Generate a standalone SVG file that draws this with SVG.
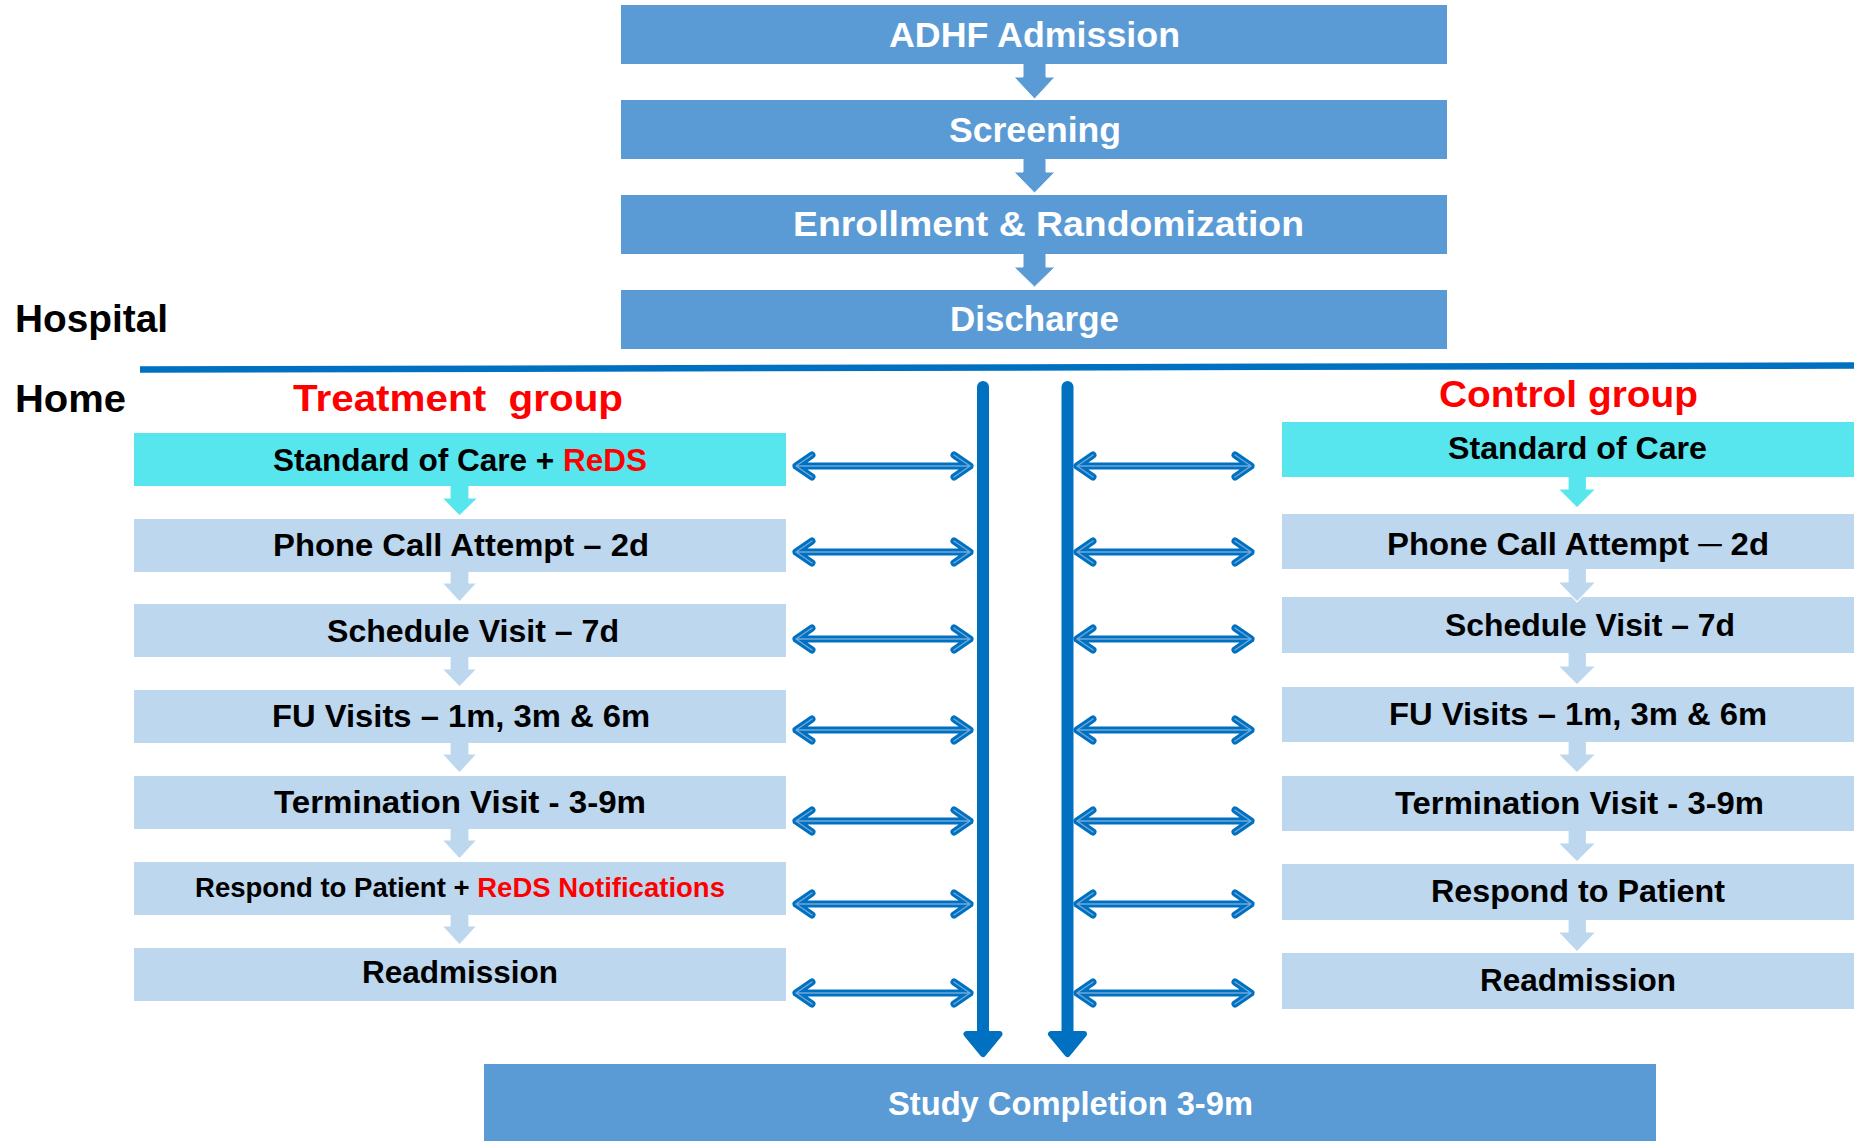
<svg xmlns="http://www.w3.org/2000/svg" width="1854" height="1141" viewBox="0 0 1854 1141">
  <style>
    text { font-family: "Liberation Sans", Arial, sans-serif; font-weight: bold; }
    .top-box { fill: #5B9BD5; }
    .top-txt { fill: #FFFFFF; font-size: 35px; }
    .lbl { fill: #000000; font-size: 38px; }
    .grp { fill: #FF0000; font-size: 37px; }
    .soc { fill: #57E6EE; }
    .step { fill: #BDD7EE; }
    .txt { fill: #000000; font-size: 32px; }
    .txt-sm { fill: #000000; font-size: 27px; }
    .red { fill: #FF0000; }
    .down-top { fill: #5B9BD5; stroke: #FFFFFF; stroke-width: 1; }
    .down-cyan { fill: #57E6EE; stroke: #FFFFFF; stroke-width: 1.2; }
    .down-light { fill: #BDD7EE; stroke: #FFFFFF; stroke-width: 1.2; }
    .dbl { fill: none; stroke: #0070C0; stroke-width: 7; stroke-linecap: round; stroke-linejoin: round; }
    .dbl-in { fill: none; stroke: #6FA8DC; stroke-width: 1.4; stroke-linecap: round; stroke-linejoin: round; }
    .trunk { fill: none; stroke: #0070C0; stroke-width: 12; stroke-linecap: round; }
    .trunk-head { fill: #0070C0; stroke: #0070C0; stroke-width: 6; stroke-linejoin: round; }
  </style>
  <defs>
    <!-- two-way arrow: shaft plus a chevron at each end, drawn as a doubled stroke -->
    <path id="twoway-l" d="M812 -11 L796 0 L812 11 M796 0 L970 0 M954 -11 L970 0 L954 11"/>
    <path id="twoway-r" d="M1093 -11 L1077 0 L1093 11 M1077 0 L1251 0 M1235 -11 L1251 0 L1235 11"/>
  </defs>

  <rect width="1854" height="1141" fill="#FFFFFF"/>

  <!-- hospital phase -->
  <g id="adhf-admission">
    <rect class="top-box" x="621" y="5" width="826" height="59"/>
    <text class="top-txt" x="889" y="47" textLength="291" lengthAdjust="spacingAndGlyphs">ADHF Admission</text>
  </g>
  <g id="screening">
    <rect class="top-box" x="621" y="100" width="826" height="59"/>
    <text class="top-txt" x="949" y="142" textLength="172" lengthAdjust="spacingAndGlyphs">Screening</text>
  </g>
  <g id="enrollment">
    <rect class="top-box" x="621" y="195" width="826" height="59"/>
    <text class="top-txt" x="793" y="236" textLength="511" lengthAdjust="spacingAndGlyphs">Enrollment &amp; Randomization</text>
  </g>
  <g id="discharge">
    <rect class="top-box" x="621" y="290" width="826" height="59"/>
    <text class="top-txt" x="950" y="331" textLength="169" lengthAdjust="spacingAndGlyphs">Discharge</text>
  </g>

  <!-- phase labels and divider -->
  <g id="phase-labels">
    <text class="lbl" x="15" y="332" textLength="153" lengthAdjust="spacingAndGlyphs">Hospital</text>
    <text class="lbl" x="15" y="412" textLength="111" lengthAdjust="spacingAndGlyphs">Home</text>
    <line x1="140" y1="369.5" x2="1854" y2="365.5" stroke="#0070C0" stroke-width="6.5"/>
  </g>

  <!-- treatment arm -->
  <g id="treatment-title">
    <text class="grp" x="293" y="411" textLength="330" lengthAdjust="spacingAndGlyphs" xml:space="preserve">Treatment  group</text>
  </g>
  <g id="t-soc">
    <rect class="soc" x="134" y="433" width="652" height="53"/>
    <text class="txt" x="273" y="471" textLength="374" lengthAdjust="spacingAndGlyphs">Standard of Care + <tspan class="red">ReDS</tspan></text>
  </g>
  <g id="t-phone">
    <rect class="step" x="134" y="519" width="652" height="53"/>
    <text class="txt" x="273" y="556" textLength="376" lengthAdjust="spacingAndGlyphs">Phone Call Attempt – 2d</text>
  </g>
  <g id="t-schedule">
    <rect class="step" x="134" y="604" width="652" height="53"/>
    <text class="txt" x="327" y="642" textLength="292" lengthAdjust="spacingAndGlyphs">Schedule Visit – 7d</text>
  </g>
  <g id="t-fu">
    <rect class="step" x="134" y="690" width="652" height="53"/>
    <text class="txt" x="272" y="727" textLength="378" lengthAdjust="spacingAndGlyphs">FU Visits – 1m, 3m &amp; 6m</text>
  </g>
  <g id="t-termination">
    <rect class="step" x="134" y="776" width="652" height="53"/>
    <text class="txt" x="274" y="813" textLength="372" lengthAdjust="spacingAndGlyphs">Termination Visit - 3-9m</text>
  </g>
  <g id="t-respond">
    <rect class="step" x="134" y="862" width="652" height="53"/>
    <text class="txt-sm" x="195" y="897" textLength="530" lengthAdjust="spacingAndGlyphs">Respond to Patient + <tspan class="red">ReDS Notifications</tspan></text>
  </g>
  <g id="t-readmission">
    <rect class="step" x="134" y="948" width="652" height="53"/>
    <text class="txt" x="362" y="983" textLength="196" lengthAdjust="spacingAndGlyphs">Readmission</text>
  </g>

  <!-- control arm -->
  <g id="control-title">
    <text class="grp" x="1439" y="407" textLength="259" lengthAdjust="spacingAndGlyphs">Control group</text>
  </g>
  <g id="c-soc">
    <rect class="soc" x="1282" y="422" width="572" height="55"/>
    <text class="txt" x="1448" y="459" textLength="259" lengthAdjust="spacingAndGlyphs">Standard of Care</text>
  </g>
  <g id="c-phone">
    <rect class="step" x="1282" y="514" width="572" height="55"/>
    <text class="txt" x="1387" y="555" textLength="382" lengthAdjust="spacingAndGlyphs">Phone Call Attempt ─ 2d</text>
  </g>
  <g id="c-schedule">
    <rect class="step" x="1282" y="597" width="572" height="56"/>
    <text class="txt" x="1445" y="636" textLength="290" lengthAdjust="spacingAndGlyphs">Schedule Visit – 7d</text>
  </g>
  <g id="c-fu">
    <rect class="step" x="1282" y="687" width="572" height="55"/>
    <text class="txt" x="1389" y="725" textLength="378" lengthAdjust="spacingAndGlyphs">FU Visits – 1m, 3m &amp; 6m</text>
  </g>
  <g id="c-termination">
    <rect class="step" x="1282" y="776" width="572" height="55"/>
    <text class="txt" x="1395" y="814" textLength="369" lengthAdjust="spacingAndGlyphs">Termination Visit - 3-9m</text>
  </g>
  <g id="c-respond">
    <rect class="step" x="1282" y="864" width="572" height="56"/>
    <text class="txt" x="1431" y="902" textLength="294" lengthAdjust="spacingAndGlyphs">Respond to Patient</text>
  </g>
  <g id="c-readmission">
    <rect class="step" x="1282" y="953" width="572" height="56"/>
    <text class="txt" x="1480" y="991" textLength="196" lengthAdjust="spacingAndGlyphs">Readmission</text>
  </g>

  <!-- end of study -->
  <g id="study-completion">
    <rect class="top-box" x="484" y="1064" width="1172" height="90"/>
    <text class="top-txt" x="888" y="1115" font-size="33" style="font-size:33px" textLength="365" lengthAdjust="spacingAndGlyphs">Study Completion 3-9m</text>
  </g>

  <!-- connectors -->
  <g id="connectors">
    <!-- hospital flow -->
    <path class="down-top" d="M1046 64 V77 H1055 L1034.5 99 L1014 77 H1023 V64"/>
    <path class="down-top" d="M1046 159 V172 H1055 L1034.5 193 L1014 172 H1023 V159"/>
    <path class="down-top" d="M1046 254 V267 H1055 L1034.5 287 L1014 267 H1023 V254"/>

    <!-- treatment flow -->
    <path class="down-cyan" d="M469 486 V498 H478 L459.5 516 L442 498 H450 V486"/>
    <path class="down-light" d="M469 572 V583 H477 L459.5 602 L442 583 H450 V572"/>
    <path class="down-light" d="M469 657 V669 H477 L459.5 687 L442 669 H450 V657"/>
    <path class="down-light" d="M469 743 V754 H477 L459.5 773 L442 754 H450 V743"/>
    <path class="down-light" d="M469 829 V840 H477 L459.5 859 L442 840 H450 V829"/>
    <path class="down-light" d="M469 915 V926 H477 L459.5 945 L442 926 H450 V915"/>

    <!-- control flow -->
    <path class="down-cyan" d="M1586.5 477 V489 H1596 L1577 508 L1558 489 H1568 V477"/>
    <path class="down-light" d="M1586.5 569 V582 H1596 L1577 602 L1558 582 H1568 V569"/>
    <path class="down-light" d="M1586.5 653 V666 H1596 L1577 685 L1558 666 H1568 V653"/>
    <path class="down-light" d="M1586.5 742 V754 H1596 L1577 773 L1558 754 H1568 V742"/>
    <path class="down-light" d="M1586.5 831 V843 H1596 L1577 862 L1558 843 H1568 V831"/>
    <path class="down-light" d="M1586.5 920 V932 H1596 L1577 952 L1558 932 H1568 V920"/>

    <!-- timeline trunks -->
    <path class="trunk" d="M983 387 V1036"/>
    <path class="trunk-head" d="M966.5 1034 L999.5 1034 L983 1054 Z"/>
    <path class="trunk" d="M1067.5 387 V1036"/>
    <path class="trunk-head" d="M1051 1034 L1084 1034 L1067.5 1054 Z"/>

    <!-- two-way links, treatment side -->
    <g transform="translate(0 466)"><use href="#twoway-l" class="dbl"/><use href="#twoway-l" class="dbl-in"/></g>
    <g transform="translate(0 552)"><use href="#twoway-l" class="dbl"/><use href="#twoway-l" class="dbl-in"/></g>
    <g transform="translate(0 639)"><use href="#twoway-l" class="dbl"/><use href="#twoway-l" class="dbl-in"/></g>
    <g transform="translate(0 730)"><use href="#twoway-l" class="dbl"/><use href="#twoway-l" class="dbl-in"/></g>
    <g transform="translate(0 821)"><use href="#twoway-l" class="dbl"/><use href="#twoway-l" class="dbl-in"/></g>
    <g transform="translate(0 904)"><use href="#twoway-l" class="dbl"/><use href="#twoway-l" class="dbl-in"/></g>
    <g transform="translate(0 993)"><use href="#twoway-l" class="dbl"/><use href="#twoway-l" class="dbl-in"/></g>

    <!-- two-way links, control side -->
    <g transform="translate(0 466)"><use href="#twoway-r" class="dbl"/><use href="#twoway-r" class="dbl-in"/></g>
    <g transform="translate(0 552)"><use href="#twoway-r" class="dbl"/><use href="#twoway-r" class="dbl-in"/></g>
    <g transform="translate(0 639)"><use href="#twoway-r" class="dbl"/><use href="#twoway-r" class="dbl-in"/></g>
    <g transform="translate(0 730)"><use href="#twoway-r" class="dbl"/><use href="#twoway-r" class="dbl-in"/></g>
    <g transform="translate(0 821)"><use href="#twoway-r" class="dbl"/><use href="#twoway-r" class="dbl-in"/></g>
    <g transform="translate(0 904)"><use href="#twoway-r" class="dbl"/><use href="#twoway-r" class="dbl-in"/></g>
    <g transform="translate(0 993)"><use href="#twoway-r" class="dbl"/><use href="#twoway-r" class="dbl-in"/></g>
  </g>
</svg>
